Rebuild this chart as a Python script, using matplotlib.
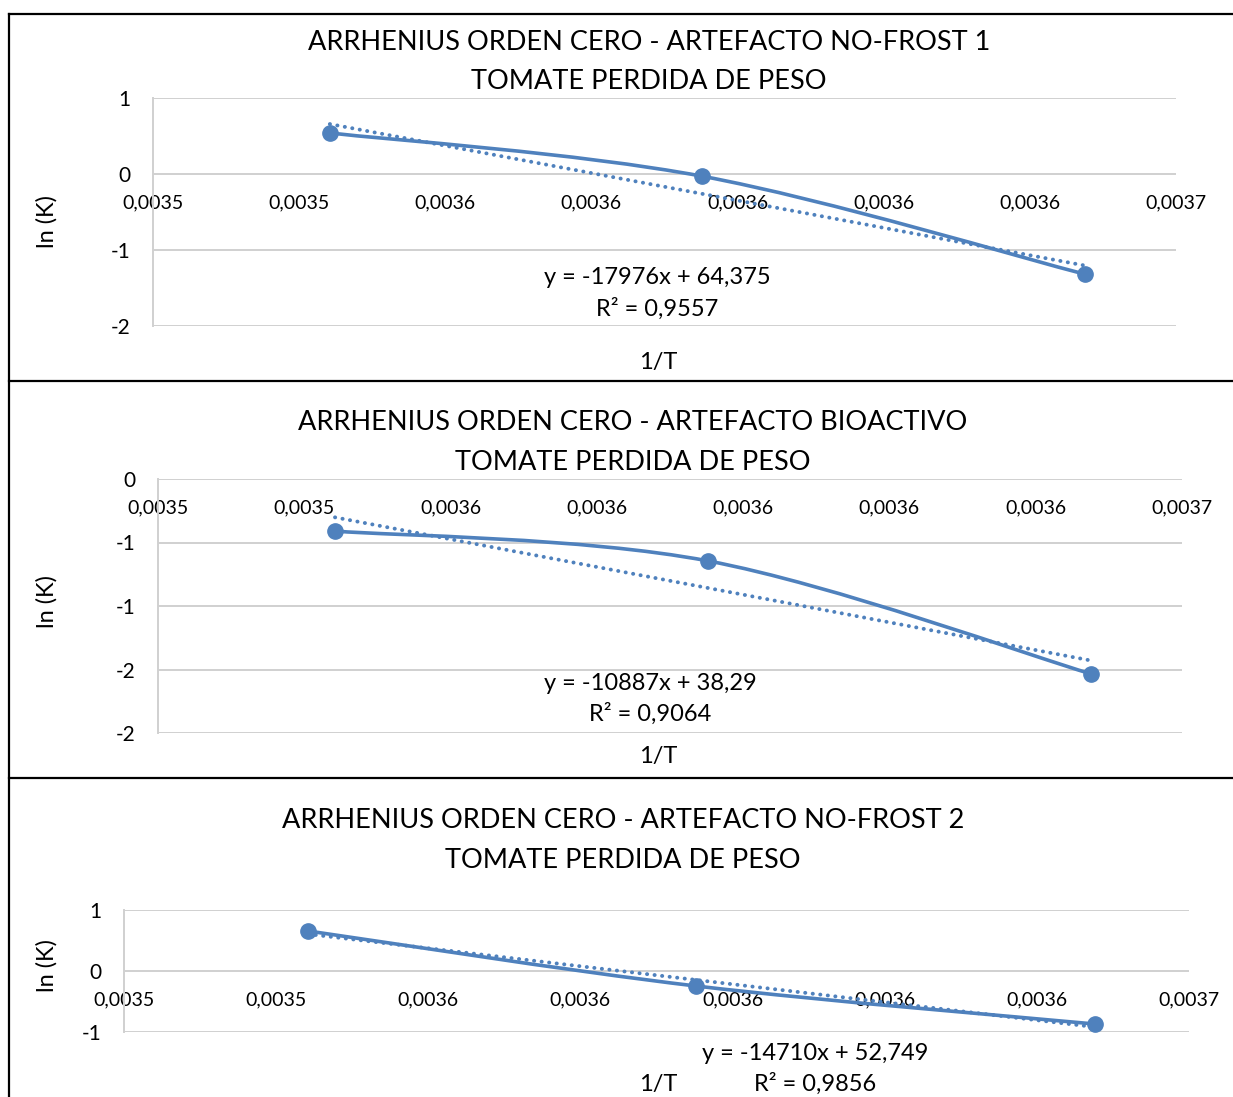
#!/usr/bin/env python3
"""Three stacked Arrhenius (zero order) panels, Excel-style."""

import matplotlib

matplotlib.use("Agg")
import matplotlib.pyplot as plt
import numpy as np
from matplotlib.path import Path
from matplotlib.patches import PathPatch


W, H = 1233, 1097
BLUE = "#4F81BD"
GRID = "#D0D0D0"
FONT = "Lato"

# 1/T values (same storage temperatures in all three charts)
INV_T = [0.0035442, 0.0035952, 0.0036476]
X_TICKS = [0.00352, 0.00354, 0.00356, 0.00358, 0.00360, 0.00362, 0.00364, 0.00366]

TITLES = [
    "ARRHENIUS ORDEN CERO - ARTEFACTO NO-FROST 1\nTOMATE PERDIDA DE PESO",
    "ARRHENIUS ORDEN CERO - ARTEFACTO BIOACTIVO\nTOMATE PERDIDA DE PESO",
    "ARRHENIUS ORDEN CERO - ARTEFACTO NO-FROST 2\nTOMATE PERDIDA DE PESO",
]
LN_K = [
    [0.54, -0.03, -1.32],
    [-0.41, -0.645, -1.535],
    [0.656, -0.246, -0.869],
]
EQUATIONS = ["y = -17976x + 64,375", "y = -10887x + 38,29", "y = -14710x + 52,749"]
R2_LABELS = ["R² = 0,9557", "R² = 0,9064", "R² = 0,9856"]
Y_TICKS = [[1, 0, -1, -2], [0, -0.5, -1, -1.5, -2], [1, 0, -1]]
Y_TICK_LABELS = [["1", "0", "-1", "-2"], ["0", "-1", "-1", "-2", "-2"], ["1", "0", "-1"]]

# layout in pixels: plot box (left, top, right, bottom), title centre/y lines, etc.
PANELS = [
    dict(box=(153, 98, 1176, 326), title=(649, 42, 81), eq=(657, 278, 309),
         xlabel=(658, 362), ylabel=(47, 222)),
    dict(box=(158, 479, 1182, 733), title=(633, 423, 462), eq=(650, 683, 714),
         xlabel=(658, 757), ylabel=(47, 602)),
    dict(box=(124, 910, 1189, 1032), title=(623, 821, 860), eq=(815, 1053, 1084),
         xlabel=(658, 1084), ylabel=(47, 966)),
]


def fx(px):
    return px / W


def fy(py):
    return 1 - py / H


def smooth_path(xs, ys):
    # Excel-like smoothed line: cubic Bezier with Catmull-Rom control points
    pts = np.column_stack([xs, ys])
    n = len(pts)
    verts = [pts[0]]
    codes = [Path.MOVETO]
    for i in range(n - 1):
        p0 = pts[i - 1] if i > 0 else pts[i]
        p1 = pts[i]
        p2 = pts[i + 1]
        p3 = pts[i + 2] if i + 2 < n else pts[i + 1]
        c1 = p1 + (p2 - p0) / 6
        c2 = p2 - (p3 - p1) / 6
        verts += [c1, c2, p2]
        codes += [Path.CURVE4] * 3
    return Path(verts, codes)


fig = plt.figure(figsize=(W / 100, H / 100), dpi=100)

# outer frame lines
for y in (14, 381, 778):
    fig.add_artist(plt.Line2D([fx(9), 1], [fy(y), fy(y)], color="black", lw=1.6))
fig.add_artist(plt.Line2D([fx(9), fx(9)], [fy(14), 0], color="black", lw=1.6))

for i, spec in enumerate(PANELS):
    left, top, right, bottom = spec["box"]
    ax = fig.add_axes([fx(left), fy(bottom), fx(right) - fx(left), fy(top) - fy(bottom)])
    ax.set_xlim(X_TICKS[0], X_TICKS[-1])
    ax.set_ylim(min(Y_TICKS[i]), max(Y_TICKS[i]))
    for s in ("top", "right", "bottom"):
        ax.spines[s].set_visible(False)
    ax.spines["left"].set_color(GRID)
    ax.spines["left"].set_linewidth(1.4)
    ax.spines["bottom"].set_position(("data", 0))
    ax.set_yticks(Y_TICKS[i])
    ax.set_yticklabels(Y_TICK_LABELS[i], fontsize=15, family=FONT)
    ax.set_xticks(X_TICKS)
    ax.set_xticklabels([f"{v:.4f}".replace(".", ",") for v in X_TICKS], fontsize=14, family=FONT)
    ax.tick_params(axis="both", length=0)
    ax.tick_params(axis="y", pad=16)
    ax.tick_params(axis="x", pad=15)
    ax.grid(axis="y", color=GRID, lw=1.4)
    ax.set_axisbelow(True)
    ax.patch.set_alpha(0)

    xs, ys = INV_T, LN_K[i]
    slope, intercept = np.polyfit(xs, ys, 1)
    tx = np.array([xs[0], xs[-1]])
    ax.plot(tx, slope * tx + intercept, color=BLUE, lw=2.8,
            linestyle=(0, (0.05, 1.9)), dash_capstyle="round", zorder=3)
    ax.add_patch(PathPatch(smooth_path(xs, ys), facecolor="none", edgecolor=BLUE,
                           lw=2.6, zorder=4, clip_on=False))
    ax.plot(xs, ys, linestyle="none", marker="o", ms=11, color=BLUE, zorder=5, clip_on=False)

    cx, y1, y2 = spec["title"]
    title_top, title_bottom = TITLES[i].split("\n")
    fig.text(fx(cx), fy(y1), title_top, ha="center", va="center", fontsize=19.5, family=FONT)
    fig.text(fx(cx), fy(y2), title_bottom, ha="center", va="center", fontsize=19.5, family=FONT)

    ex, ey1, ey2 = spec["eq"]
    fig.text(fx(ex), fy(ey1), EQUATIONS[i], ha="center", va="center", fontsize=17, family=FONT)
    fig.text(fx(ex), fy(ey2), R2_LABELS[i], ha="center", va="center", fontsize=17, family=FONT)

    lx, ly = spec["xlabel"]
    fig.text(fx(lx), fy(ly), "1/T", ha="center", va="center", fontsize=17, family=FONT)
    yx, yy = spec["ylabel"]
    fig.text(fx(yx), fy(yy), "ln (K)", ha="center", va="center", rotation=90,
             fontsize=17, family=FONT)

fig.savefig("out.png", dpi=100)
